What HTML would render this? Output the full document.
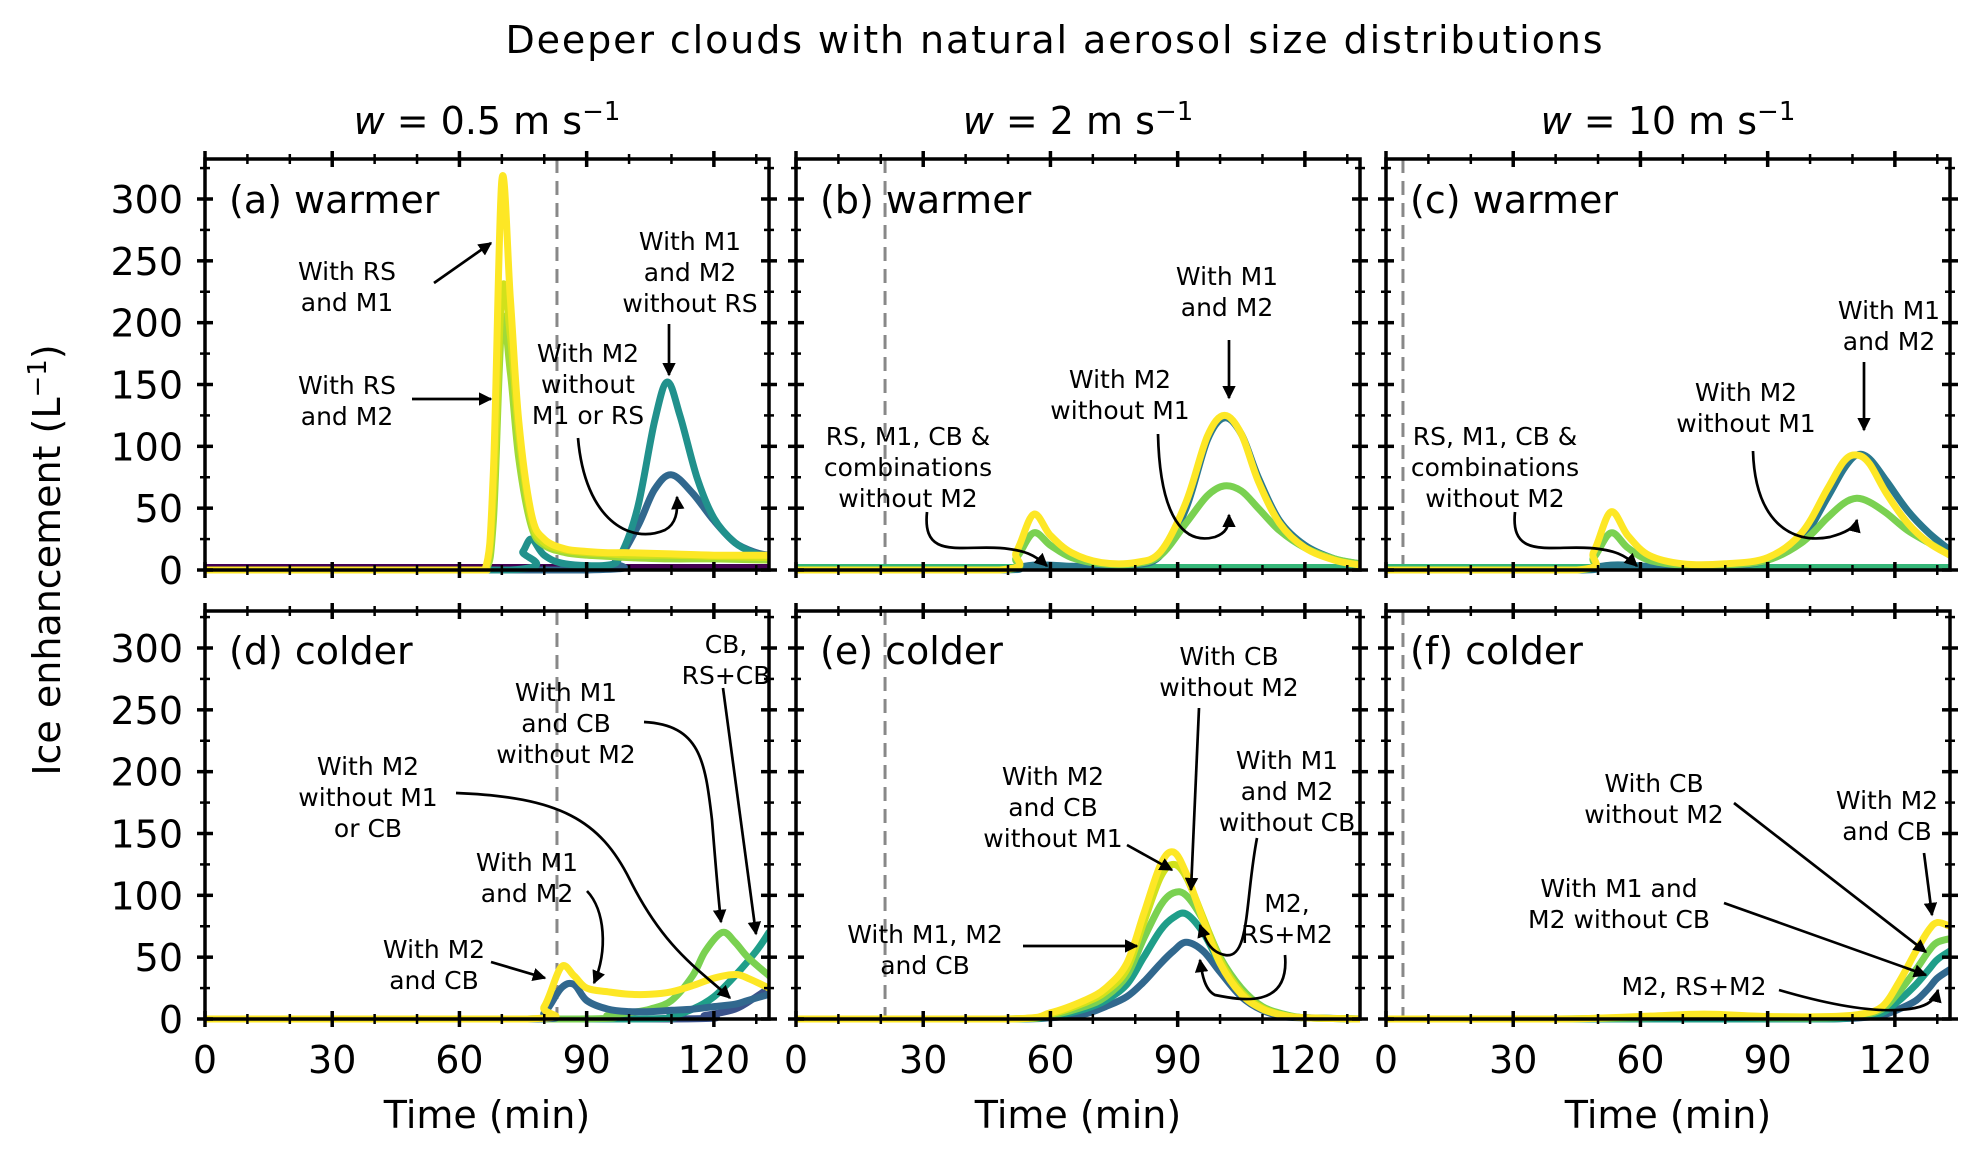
<!DOCTYPE html>
<html><head><meta charset="utf-8"><style>
html,body{margin:0;padding:0;background:#fff;}
svg{display:block;font-family:"DejaVu Sans","Liberation Sans",sans-serif;}
</style></head><body>
<svg id="chart" width="1982" height="1155" viewBox="0 0 1982 1155" xmlns="http://www.w3.org/2000/svg">
<defs>
<marker id="ah" viewBox="0 0 10 10" refX="9" refY="5" markerWidth="5" markerHeight="5" orient="auto-start-reverse" markerUnits="strokeWidth"><path d="M0,0 L10,5 L0,10 z" fill="#000"/></marker>
</defs>
<text x="1054" y="53" font-size="38" text-anchor="middle" textLength="1097">Deeper clouds with natural aerosol size distributions</text>
<text x="487" y="134" font-size="38" text-anchor="middle"><tspan font-style="italic">w</tspan> = 0.5 m s<tspan dy="-14" font-size="26">−1</tspan></text>
<text x="1078" y="134" font-size="38" text-anchor="middle"><tspan font-style="italic">w</tspan> = 2 m s<tspan dy="-14" font-size="26">−1</tspan></text>
<text x="1668" y="134" font-size="38" text-anchor="middle"><tspan font-style="italic">w</tspan> = 10 m s<tspan dy="-14" font-size="26">−1</tspan></text>
<text x="0" y="0" font-size="38" text-anchor="middle" transform="translate(60,560) rotate(-90)">Ice enhancement (L<tspan dy="-14" font-size="26">−1</tspan><tspan dy="14">)</tspan></text>
<g id="panels"></g>
<g id="annot" font-size="25" text-anchor="middle" fill="#000"></g>
</svg>
<script>
// ---------- data ----------
const xTicks = [0, 30, 60, 90, 120];
const yTicks = [0, 50, 100, 150, 200, 250, 300];
const panelLabels = ["(a) warmer", "(b) warmer", "(c) warmer", "(d) colder", "(e) colder", "(f) colder"];
const dashTimes = [83, 21, 4, 83, 21, 4];

// panel a
const a1T = [0,60,66,68,70,72,74,77,80,85,90,95,100,110,120,133];
const a1V = [0,0,0,80,315,220,120,45,25,17,15,14,14,13,12,12];
const a2V = [0,0,0,60,225,190,110,40,22,16,14,13,12,12,11,10];
const a3V = [0,0,0,40,200,160,90,35,20,14,12,11,10,9,9,8];
const a4T = [0,72,75,77,80,85,95,98,102,106,109,112,116,120,125,130,133];
const a4V = [0,0,15,25,12,5,4,12,50,120,152,125,75,42,22,13,10];
const a5T = [0,90,97,102,106,110,115,120,125,130,133];
const a5V = [0,0,8,35,65,77,62,40,22,14,12];
const a6T = [0,133];
const a6V = [2,2];
// panel b
const bT = [0,48,52,56,60,65,72,80,86,92,97,101,105,109,114,120,127,133];
const b1V = [0,0,15,45,28,14,6,6,15,55,108,125,110,72,38,18,8,4];
const b2V = [0,0,2,4,4,3,3,4,12,50,105,123,110,75,40,20,9,5];
const b3V = [0,0,10,30,20,10,5,5,12,38,60,68,64,50,32,18,9,5];
const b4T = [0,133];
const b4V = [2,2];
// panel c
const cT = [0,45,49,53,57,62,70,80,90,98,104,108,111,114,118,123,128,133];
const c1V = [0,0,15,47,28,12,5,5,10,30,65,88,93,86,62,38,22,12];
const c2V = [0,0,2,4,4,3,3,3,8,25,58,82,93,90,72,48,30,16];
const c3V = [0,0,10,30,18,8,4,4,8,22,42,54,58,55,46,32,22,12];
const c4T = [0,133];
const c4V = [2,2];
// panel d
const d1T = [0,76,80,84,87,90,95,100,105,110,115,120,125,128,133];
const d1V = [0,0,10,42,35,25,22,20,20,22,27,33,36,33,25];
const d2V = [0,0,5,25,28,15,8,6,6,7,8,10,12,15,20];
const d3T = [0,88,95,100,105,110,115,118,122,125,128,133];
const d3V = [0,0,3,5,8,15,35,55,70,62,50,35];
const d4T = [0,100,110,115,120,125,130,133];
const d4V = [0,0,3,8,18,35,55,70];
const d5T = [0,110,118,125,130,133];
const d5V = [0,0,3,8,18,25];
// panel e
const eT = [0,50,60,68,73,78,82,86,89,92,96,100,105,110,115,120,133];
const e1V = [0,0,5,15,25,45,85,125,135,118,80,45,20,8,3,1,0];
const e2V = [0,0,4,13,22,40,78,115,125,115,82,48,22,9,3,1,0];
const e3V = [0,0,3,10,18,35,65,92,102,100,80,50,25,10,4,1,0];
const e4V = [0,0,2,8,15,28,50,72,82,85,70,45,22,9,3,1,0];
const e5V = [0,0,1,4,10,18,30,45,55,62,55,38,18,7,2,1,0];
// panel f
const fT = [0,40,60,75,90,105,112,117,121,125,128,130,133];
const f1V = [0,0,2,4,2,2,4,10,30,55,72,78,75];
const f2V = [0,0,1,2,1,1,3,8,22,40,55,62,65];
const f3V = [0,0,0,0,0,0,2,5,15,28,40,48,55];
const f4V = [0,0,0,0,0,0,1,3,8,15,25,33,40];

const panelSeries = [
  [[a6T,a6V,"#440154"],[a5T,a5V,"#31688e"],[a4T,a4V,"#21918c"],[a1T,a3V,"#a0da39"],[a1T,a2V,"#d0e11c"],[a1T,a1V,"#fde725"]],
  [[b4T,b4V,"#35b779"],[bT,b2V,"#2a788e"],[bT,b3V,"#7ad151"],[bT,b1V,"#fde725"]],
  [[c4T,c4V,"#35b779"],[cT,c2V,"#2a788e"],[cT,c3V,"#7ad151"],[cT,c1V,"#fde725"]],
  [[d5T,d5V,"#3b528b"],[d4T,d4V,"#1f9e89"],[d3T,d3V,"#7ad151"],[d1T,d2V,"#31688e"],[d1T,d1V,"#fde725"]],
  [[eT,e5V,"#31688e"],[eT,e4V,"#1f9e89"],[eT,e3V,"#7ad151"],[eT,e2V,"#d0e11c"],[eT,e1V,"#fde725"]],
  [[fT,f4V,"#31688e"],[fT,f3V,"#1f9e89"],[fT,f2V,"#7ad151"],[fT,f1V,"#fde725"]]
];

// ---------- layout ----------
const NS = "http://www.w3.org/2000/svg";
const lefts = [205, 796, 1386];
const W = 564;
const rows = [{top:159, y0:570}, {top:611, y0:1019}];
const XMAX = 133;
const pxPerUnit = 371/300;

function mk(tag, attrs, parent){
  const e = document.createElementNS(NS, tag);
  for (const k in attrs) e.setAttribute(k, attrs[k]);
  if (parent) parent.appendChild(e);
  return e;
}
function smoothPath(pts, ymax){
  let d = "M" + pts[0][0].toFixed(1) + "," + pts[0][1].toFixed(1);
  for (let i=0;i<pts.length-1;i++){
    const p0 = pts[Math.max(0,i-1)], p1 = pts[i], p2 = pts[i+1], p3 = pts[Math.min(pts.length-1,i+2)];
    const c1x = p1[0]+(p2[0]-p0[0])/6, c1y = Math.min(ymax, p1[1]+(p2[1]-p0[1])/6);
    const c2x = p2[0]-(p3[0]-p1[0])/6, c2y = Math.min(ymax, p2[1]-(p3[1]-p1[1])/6);
    d += " C"+c1x.toFixed(1)+","+c1y.toFixed(1)+" "+c2x.toFixed(1)+","+c2y.toFixed(1)+" "+p2[0].toFixed(1)+","+p2[1].toFixed(1);
  }
  return d;
}

const root = document.getElementById("panels");
const defs = document.querySelector("defs");
for (let p=0;p<6;p++){
  const col = p%3, row = Math.floor(p/3);
  const L = lefts[col], R = L+W, T = rows[row].top, Y0 = rows[row].y0;
  const xs = t => L + t/XMAX*W;
  const ys = v => Y0 - v*pxPerUnit;
  const g = mk("g", {}, root);
  
  
  const cp = mk("clipPath", {id:"clip"+p}, defs);
  mk("rect", {x:L, y:T, width:W, height:Y0-T+6}, cp);
  const dl = mk("line", {x1:xs(dashTimes[p]), x2:xs(dashTimes[p]), y1:T, y2:Y0, stroke:"#888", "stroke-width":3, "stroke-dasharray":"14,8"}, g);
  
  
  const sg = mk("g", {"clip-path":"url(#clip"+p+")"}, g);
  panelSeries[p].forEach((s, i) => {
    const pts = s[0].map((t,k)=>[xs(t), ys(s[1][k])]);
    const path = mk("path", {d:smoothPath(pts, Y0), fill:"none", stroke:s[2], "stroke-width":7, "stroke-linejoin":"round", "stroke-linecap":"round"}, sg);
    
    
  });
  const fr = mk("rect", {x:L, y:T, width:W, height:Y0-T, fill:"none", stroke:"#000", "stroke-width":3.5}, g);
  
  
  for (let t=0;t<=130;t+=10){
    const major = t%30===0, h = major?8:5, x = xs(t);
    [T, Y0].forEach(yy=>mk("line",{x1:x,x2:x,y1:yy-h,y2:yy+h,stroke:"#000","stroke-width":major?3.5:2.5},g));
  }
  for (let v=0;v<=325;v+=25){
    const major = v%50===0, h = major?8:5, y = ys(v);
    [L, R].forEach(xx=>mk("line",{x1:xx-h,x2:xx+h,y1:y,y2:y,stroke:"#000","stroke-width":major?3.5:2.5},g));
  }
  if (col===0){
    yTicks.forEach(v=>{
      const tx = mk("text",{x:183,y:ys(v)+14,"font-size":38,"text-anchor":"end"},g);
      tx.textContent = v;
      
      
    });
  }
  if (row===1){
    xTicks.forEach(t=>{
      const tx = mk("text",{x:xs(t),y:1073,"font-size":38,"text-anchor":"middle"},g);
      tx.textContent = t;
      
      
    });
    const xl = mk("text",{x:L+W/2,y:1128,"font-size":38,"text-anchor":"middle"},g);
    xl.textContent = "Time (min)";
    
    
  }
  const pl = mk("text",{x:L+24,y:row===0?213:664,"font-size":38},g);
  pl.textContent = panelLabels[p];
  
  
}

// ---------- annotations ----------
const ann = document.getElementById("annot");
function label(x, ys, lines){
  const t = mk("text", {x:x, y:ys}, ann);
  
  
  lines.forEach((ln,i)=>{ const s = mk("tspan",{x:x, dy: i===0?0:31}, t); s.textContent = ln; });
}
function arrow(d){
  const a = mk("path", {d:d, fill:"none", stroke:"#000", "stroke-width":2.7, "marker-end":"url(#ah)"}, ann);
  
  
}
label(347, 280, ["With RS","and M1"]);  arrow("M434,283 L491,243");
label(347, 394, ["With RS","and M2"]);  arrow("M412,399 L491,399");
label(588, 362, ["With M2","without","M1 or RS"]); arrow("M578,438 C585,520 630,545 665,530 C676,524 678,512 677,497");
label(690, 250, ["With M1","and M2","without RS"]); arrow("M669,324 L669,375");
label(908, 445, ["RS, M1, CB &","combinations","without M2"]); arrow("M927,512 C922,560 960,545 1000,548 C1025,550 1035,555 1047,566");
label(1120, 388, ["With M2","without M1"]); arrow("M1158,434 C1160,520 1185,545 1215,537 C1226,533 1229,527 1229,515");
label(1227, 285, ["With M1","and M2"]); arrow("M1229,340 L1229,398");
label(1495, 445, ["RS, M1, CB &","combinations","without M2"]); arrow("M1515,512 C1510,560 1550,545 1590,548 C1615,550 1625,555 1637,566");
label(1746, 401, ["With M2","without M1"]); arrow("M1753,451 C1755,520 1790,545 1830,537 C1845,533 1855,528 1857,520");
label(1889, 319, ["With M1","and M2"]); arrow("M1864,362 L1864,430");
label(726, 653, ["CB,","RS+CB"]); arrow("M723,688 L756,934");
label(566, 701, ["With M1","and CB","without M2"]); arrow("M644,722 C700,725 705,760 712,820 C716,870 718,895 721,922");
label(368, 775, ["With M2","without M1","or CB"]); arrow("M456,793 C560,797 600,820 630,880 C665,950 700,970 730,998");
label(527, 871, ["With M1","and M2"]); arrow("M587,891 C605,910 608,950 594,983");
label(434, 958, ["With M2","and CB"]); arrow("M491,962 L545,978");
label(1229, 665, ["With CB","without M2"]); arrow("M1199,708 L1191,890");
label(1287, 769, ["With M1","and M2","without CB"]); arrow("M1257,838 C1245,900 1250,960 1225,955 C1210,952 1205,940 1200,925");
label(1287, 912, ["M2,","RS+M2"]); arrow("M1285,955 C1290,1010 1240,1000 1215,995 C1205,990 1202,975 1200,960");
label(1053, 785, ["With M2","and CB","without M1"]); arrow("M1127,845 L1172,870");
label(925, 943, ["With M1, M2","and CB"]); arrow("M1023,946 L1137,946");
label(1654, 792, ["With CB","without M2"]); arrow("M1734,803 L1926,952");
label(1887, 809, ["With M2","and CB"]); arrow("M1924,853 L1932,915");
label(1619, 897, ["With M1 and","M2 without CB"]); arrow("M1724,903 L1926,975");
label(1694, 995, ["M2, RS+M2"]); arrow("M1779,990 C1830,1005 1880,1015 1915,1008 C1930,1005 1936,998 1938,990");
</script>
</body></html>
